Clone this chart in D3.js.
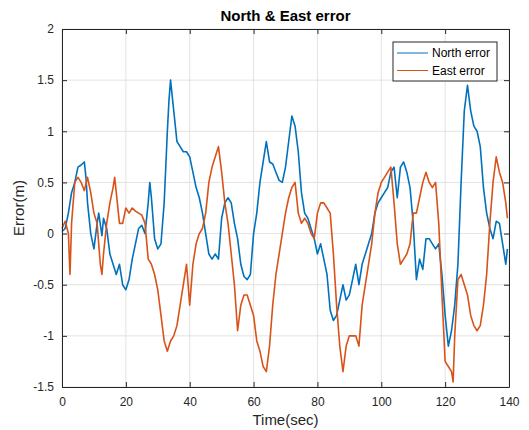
<!DOCTYPE html>
<html>
<head>
<meta charset="utf-8">
<script src="https://cdn.jsdelivr.net/npm/d3@7"></script>
<style>
  body { margin: 0; background: #fff; }
  text { font-family: "Liberation Sans", Arial, sans-serif; }
</style>
</head>
<body>
<svg id="chart" width="529" height="430"></svg>
<script>
// data
var northT = [0,1,2,3,4,5,6,7,7.5,8,9,10,11,11.5,12.5,13,14,15,16,17,18,19,20,21,22,23,24,25,26,27,27.5,28,29,30,31,32,33,33.5,34,35,36,37,38,39,40,41,42,43,44,45,46,47,48,49,50,51,52,53,54,55,56,57,58,59,60,61,62,63,64,65,66,67,68,69,70,71,72,73,74,75,76,77,78,79,80,81,82,83,84,85,86,87,88,89,90,91,92,93,94,95,96,97,98,99,100,101,102,103,104,105,106,107,108,109,110,111,112,113,114,115,116,117,118,119,120,121,122,123,124,125,126,127,128,129,130,131,132,133,134,135,136,137,138,139,139.5];
var northErr = [0.02,0.05,0.2,0.4,0.5,0.65,0.67,0.7,0.55,0.3,0.0,-0.15,0.1,0.2,-0.02,0.15,0.05,-0.2,-0.3,-0.4,-0.3,-0.5,-0.55,-0.45,-0.25,-0.1,0.05,0.08,0.0,0.3,0.5,0.35,-0.05,-0.15,-0.1,0.3,1.0,1.3,1.5,1.2,0.9,0.85,0.8,0.8,0.75,0.6,0.45,0.35,0.2,0.0,-0.2,-0.25,-0.2,-0.25,0.15,0.3,0.35,0.3,0.1,-0.05,-0.3,-0.42,-0.45,-0.4,0.0,0.2,0.5,0.7,0.9,0.7,0.68,0.6,0.52,0.5,0.65,0.9,1.15,1.05,0.8,0.4,0.2,0.15,0.05,-0.05,-0.2,-0.1,-0.25,-0.4,-0.75,-0.85,-0.8,-0.65,-0.5,-0.65,-0.6,-0.45,-0.3,-0.5,-0.3,-0.2,-0.1,0.0,0.2,0.3,0.35,0.4,0.45,0.6,0.65,0.35,0.65,0.7,0.6,0.45,0.1,-0.45,-0.25,-0.35,-0.05,-0.05,-0.1,-0.15,-0.1,-0.4,-0.8,-1.1,-0.95,-0.7,-0.3,0.5,1.2,1.45,1.2,1.05,1.0,0.85,0.45,0.2,0.05,-0.05,0.12,0.1,-0.1,-0.3,-0.15];

var eastT = [0,1,2,2.5,3,4,5,6,7,8,9,10,11,12,12.5,13,14,15,16,16.5,17,18,19,20,21,22,23,24,25,26,27,28,29,30,31,32,33,34,35,36,37,38,39,40,41,42,43,44,45,46,47,48,49,50,51,52,53,54,55,56,57,58,59,60,61,62,63,64,65,66,67,68,69,70,71,72,73,74,75,76,77,78,79,80,81,82,83,84,85,86,87,88,89,90,91,92,93,94,95,96,97,98,99,100,101,102,103,104,105,106,107,108,109,110,111,112,113,114,115,116,117,118,119,120,121,122,122.5,123,124,125,126,127,128,129,130,131,132,133,134,135,136,137,138,139,139.5];
var eastErr = [0.05,0.12,0.0,-0.4,0.1,0.5,0.55,0.5,0.42,0.55,0.4,0.2,0.1,-0.3,-0.4,-0.2,0.1,0.3,0.45,0.55,0.4,0.1,0.1,0.25,0.2,0.25,0.22,0.2,0.18,0.1,-0.25,-0.3,-0.4,-0.55,-0.8,-1.05,-1.15,-1.05,-1.0,-0.9,-0.7,-0.5,-0.3,-0.7,-0.3,-0.1,0.0,0.05,0.2,0.5,0.65,0.75,0.85,0.6,0.3,0.1,-0.2,-0.5,-0.95,-0.7,-0.6,-0.6,-0.7,-0.8,-1.05,-1.15,-1.3,-1.35,-1.1,-0.7,-0.4,-0.2,0.0,0.2,0.35,0.45,0.5,0.2,0.1,0.15,0.1,0.0,-0.05,0.2,0.3,0.3,0.25,0.2,-0.2,-0.7,-1.1,-1.35,-1.1,-1.0,-1.0,-1.0,-1.1,-0.7,-0.5,-0.3,-0.1,0.2,0.4,0.5,0.55,0.6,0.65,0.3,-0.1,-0.3,-0.25,-0.2,-0.1,0.2,0.2,0.35,0.5,0.6,0.5,0.45,0.5,0.1,-0.6,-1.25,-1.3,-1.35,-1.45,-1.0,-0.45,-0.4,-0.5,-0.6,-0.8,-0.9,-0.95,-0.9,-0.7,-0.4,0.1,0.5,0.75,0.6,0.5,0.3,0.15];

var xTicks = [0,20,40,60,80,100,120,140];
var yTicks = [-1.5,-1,-0.5,0,0.5,1,1.5,2];
var seriesNames = ["North error", "East error"];
var seriesColors = ["#0072BD", "#D95319"];

var margin = { top: 29, right: 20, bottom: 43, left: 62 };
var svg = d3.select("#chart");
var width = 529 - margin.left - margin.right;
var height = 430 - margin.top - margin.bottom;

var scalex = d3.scaleLinear().domain([0, 140]).range([0, width]);
var scaley = d3.scaleLinear().domain([-1.5, 2]).range([height, 0]);

var g = svg.append("g").attr("transform", "translate(" + margin.left + "," + margin.top + ")");

// grid
g.append("g").selectAll("line").data(xTicks).enter().append("line")
  .attr("x1", function (d) { return scalex(d); }).attr("x2", function (d) { return scalex(d); })
  .attr("y1", 0).attr("y2", height)
  .attr("stroke", "#e3e3e3").attr("stroke-width", 1);
g.append("g").selectAll("line").data(yTicks).enter().append("line")
  .attr("y1", function (d) { return scaley(d); }).attr("y2", function (d) { return scaley(d); })
  .attr("x1", 0).attr("x2", width)
  .attr("stroke", "#e3e3e3").attr("stroke-width", 1);

// series
var line = d3.line().x(function (d) { return scalex(d[0]); }).y(function (d) { return scaley(d[1]); });
var series = [
  d3.zip(northT, northErr),
  d3.zip(eastT, eastErr)
];
series.forEach(function (s, i) {
  g.append("path").datum(s)
    .attr("d", line)
    .attr("fill", "none")
    .attr("stroke", seriesColors[i])
    .attr("stroke-width", 1.6)
    .attr("stroke-linejoin", "round");
});

// axes (matlab style: inward ticks, box)
function styleAxis(sel) {
  sel.select(".domain").attr("stroke", "#262626");
  sel.selectAll(".tick line").attr("stroke", "#262626");
  sel.selectAll(".tick text").attr("fill", "#262626").style("font-size", "12px");
}
var fmt = function (d) { return String(d); };
g.append("g").attr("transform", "translate(0," + height + ")")
  .call(d3.axisBottom(scalex).tickValues(xTicks).tickFormat(fmt).tickSizeInner(-5).tickSizeOuter(0).tickPadding(10))
  .call(styleAxis);
g.append("g")
  .call(d3.axisLeft(scaley).tickValues(yTicks).tickFormat(fmt).tickSizeInner(-5).tickSizeOuter(0).tickPadding(8))
  .call(styleAxis);
g.append("g")
  .call(d3.axisTop(scalex).tickValues(xTicks).tickFormat("").tickSizeInner(-5).tickSizeOuter(0))
  .call(styleAxis);
g.append("g").attr("transform", "translate(" + width + ",0)")
  .call(d3.axisRight(scaley).tickValues(yTicks).tickFormat("").tickSizeInner(-5).tickSizeOuter(0))
  .call(styleAxis);
g.selectAll(".domain").attr("stroke-width", 1);

// title & labels
svg.append("text")
  .attr("x", margin.left + width / 2).attr("y", 21)
  .attr("text-anchor", "middle")
  .style("font-size", "15px").style("font-weight", "bold")
  .attr("fill", "#000")
  .text("North & East error");
svg.append("text")
  .attr("x", margin.left + width / 2).attr("y", 425)
  .attr("text-anchor", "middle")
  .style("font-size", "15px").attr("fill", "#262626")
  .text("Time(sec)");
svg.append("text")
  .attr("transform", "translate(24," + (margin.top + height / 2) + ") rotate(-90)")
  .attr("text-anchor", "middle")
  .style("font-size", "15px").attr("fill", "#262626")
  .text("Error(m)");

// legend
var legend = svg.append("g").attr("transform", "translate(393,42)");
legend.append("rect")
  .attr("width", 104).attr("height", 39)
  .attr("fill", "#fff").attr("stroke", "#262626").attr("stroke-width", 1);
seriesNames.forEach(function (name, i) {
  var row = legend.append("g").attr("transform", "translate(0," + (11 + i * 17.5) + ")");
  row.append("line").attr("x1", 4).attr("x2", 35).attr("y1", 0).attr("y2", 0)
    .attr("stroke", seriesColors[i]).attr("stroke-width", 1);
  row.append("text").attr("x", 39).attr("y", 4)
    .style("font-size", "12px").attr("fill", "#000")
    .text(name);
});
</script>
</body>
</html>
